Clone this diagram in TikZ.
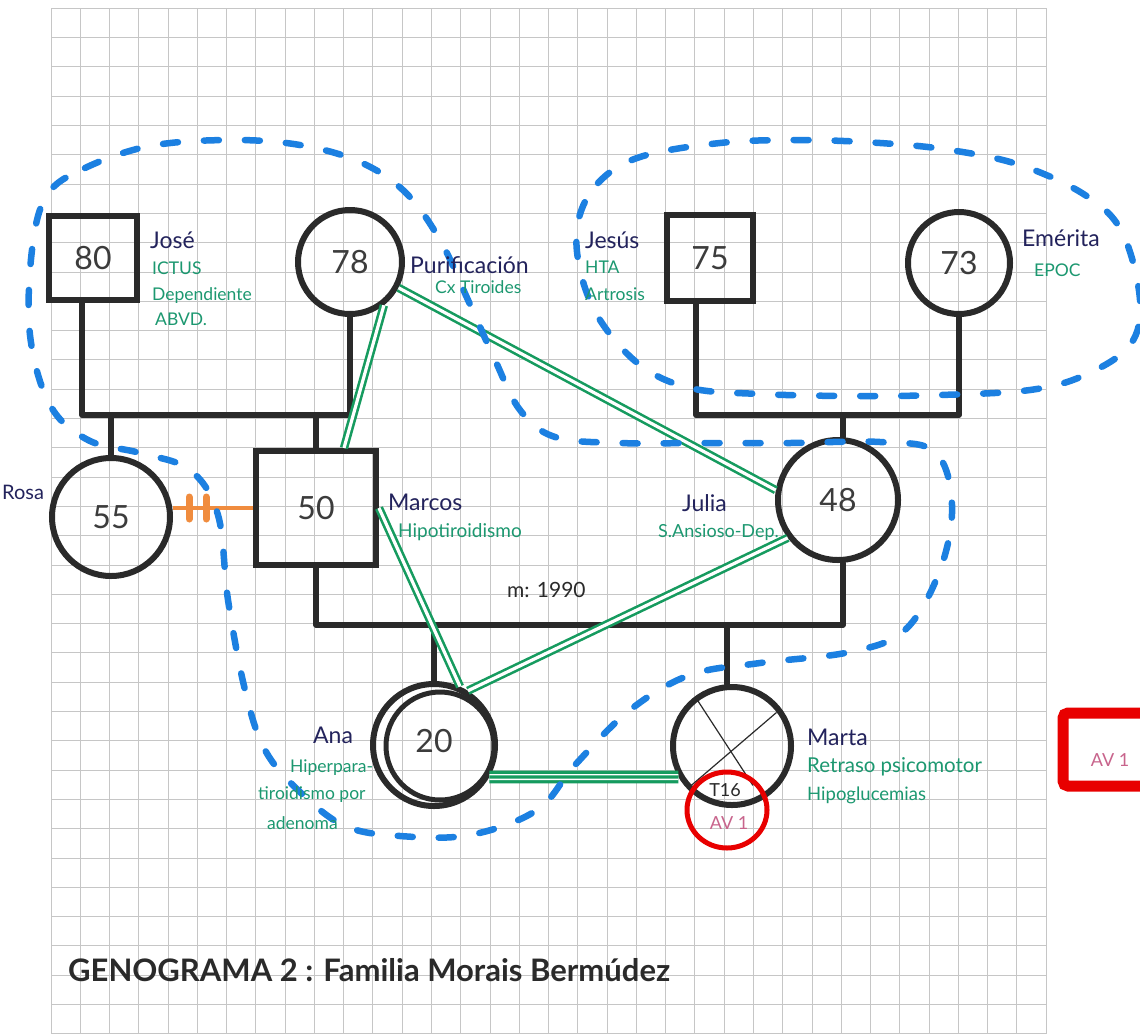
\documentclass[tikz,border=0pt]{standalone}
\usepackage{fontspec}
\setmainfont{Lato}
\usetikzlibrary{calc}
\definecolor{gridc}{RGB}{198,198,198}
\definecolor{ink}{RGB}{42,42,42}
\definecolor{numc}{RGB}{60,60,60}
\definecolor{navy}{RGB}{35,35,92}
\definecolor{dxc}{RGB}{28,152,112}
\definecolor{relg}{RGB}{22,155,95}
\definecolor{hblue}{RGB}{28,128,225}
\definecolor{orangec}{RGB}{240,140,62}
\definecolor{avc}{RGB}{200,100,140}
\definecolor{redc}{RGB}{232,0,0}
\tikzset{
  gridline/.style={draw=gridc, line width=1pt},
  fam/.style={draw=ink, line width=5.5pt, line cap=round, line join=round},
  male/.style={draw=ink, line width=6pt, rectangle, inner sep=0pt, font=\fontsize{32}{32}\selectfont, text=numc},
  female/.style={draw=ink, line width=6pt, circle, inner sep=0pt, font=\fontsize{32}{32}\selectfont, text=numc},
  pname/.style={font=\fontsize{23}{23}\selectfont, text=navy, anchor=west, inner sep=0pt},
  diag/.style={font=\fontsize{17.5}{17.5}\selectfont, text=dxc, anchor=west, inner sep=0pt},
  rel/.style={draw=relg, line width=2.6pt, double=white, double distance=3.2pt},
  trip/.style={draw=relg, line width=3.4pt, double=white, double distance=6pt},
  household/.style={draw=hblue, line width=6.5pt, line cap=round, dash pattern=on 15pt off 26pt},
  crossline/.style={draw=ink, line width=1.2pt},
  avtext/.style={font=\fontsize{18}{18}\selectfont, text=avc, inner sep=0pt},
}
\begin{document}
\begin{tikzpicture}[x=1pt,y=-1pt]
\useasboundingbox (0,0) rectangle (1140,1034);
\fill[white] (0,0) rectangle (1140,1034);

% squared paper
\foreach \i in {0,...,34} \draw[gridline] ({51+29.27*\i},8) -- ({51+29.27*\i},1034);
\foreach \j in {0,...,35} \draw[gridline] (51,{8.3+29.3*\j}) -- (1046,{8.3+29.3*\j});

% sibship and couple bars
\coordinate (barA) at (0,415);
\coordinate (barC) at (0,625);

% people
\node[male, minimum width=88pt, minimum height=84pt] (jose) at (93,258) {80};
\node[female, minimum size=104pt] (puri) at (350,262) {78};
\node[male, minimum width=86pt, minimum height=86pt] (jesus) at (710,258) {75};
\node[female, minimum size=102pt] (emerita) at (959,263) {73};
\node[female, minimum size=118pt] (rosa) at (111,517) {55};
\node[male, minimum width=120pt, minimum height=114pt] (marcos) at (316,508) {50};
\node[female, minimum size=120pt] (julia) at (838,500) {48};
\node[female, minimum size=122pt] (ana) at (434,745) {\raisebox{8pt}{20}};
\node[female, minimum size=118pt] (marta) at (732,746) {};
\draw[ink, line width=5pt] (440,746) circle (54);

% deceased cross
\draw[crossline] ($(marta.center)!0.93!(marta.127)$) -- ($(marta.center)!0.72!(marta.-62)$);
\draw[crossline] ($(marta.center)!0.9!(marta.37)$) -- ($(marta.center)!0.93!(marta.-136)$);

% family lines
\draw[fam] ([xshift=-11pt]jose.south) -- ([xshift=-11pt]jose.south |- barA) -- (puri.south |- barA) -- (puri.south);
\draw[fam] (rosa.north) -- (rosa.north |- barA);
\draw[fam] (marcos.north) -- (marcos.north |- barA);
\draw[fam] ([xshift=-14pt]jesus.south) -- ([xshift=-14pt]jesus.south |- barA) -- (emerita.south |- barA) -- (emerita.south);
\draw[fam] ([xshift=5pt]julia.north) -- ([xshift=5pt]julia.north |- barA);
\draw[fam] (marcos.south) -- (marcos.south |- barC) -- ([xshift=5pt]julia.south |- barC) -- ([xshift=5pt]julia.south);
\draw[fam] (ana.north) -- (ana.north |- barC);
\draw[fam] ([xshift=-5pt]marta.north) -- ([xshift=-5pt]marta.north |- barC);

% emotional relations
\draw[rel] (puri.-28) -- (julia.171);
\draw[rel] (puri.-52) -- ($(marcos.north)+(28,0)$);
\draw[rel] (marcos.east) -- (ana.66);
\draw[rel] (julia.-143) -- (ana.58);
\draw[trip] (ana.-30) -- (marta.-150);
\draw[relg, line width=3.4pt] (ana.-30) -- (marta.-150);

% broken relation
\coordinate (rosaedge) at (rosa.east |- marcos.west);
\draw[orangec, line width=4pt] (marcos.west) -- (rosaedge);
\draw[orangec, line width=7pt, line cap=round] ($(rosaedge)+(16,-11)$) -- ++(0,22);
\draw[orangec, line width=7pt, line cap=round] ($(rosaedge)+(33,-11)$) -- ++(0,22);

% households
\draw[household] plot[smooth cycle, tension=0.6] coordinates {
 (47,195) (85,168) (150,146) (230,140) (300,145) (360,162) (405,192) (440,240)
 (468,300) (495,360) (520,410) (555,437) (620,443) (700,443) (790,443) (880,442)
 (935,452) (952,505) (940,570) (905,630) (850,652) (760,663) (690,675) (630,710)
 (575,765) (537,810) (470,835) (400,836) (345,826) (300,792) (265,750) (245,690)
 (228,600) (218,515) (190,470) (140,453) (88,440) (50,405) (30,335) (32,250)};
\draw[household] plot[smooth cycle, tension=0.6] coordinates {
 (578,222) (598,183) (640,157) (720,143) (800,140) (880,143) (950,150) (1020,165)
 (1085,195) (1122,232) (1140,300) (1130,345) (1085,375) (1030,390) (940,395)
 (850,396) (760,394) (690,388) (640,365) (600,320) (580,270)};

% names and notes
\node[pname] (tJose) at (150,240) {José};
\node[diag] (tJose1) at (152,268) {ICTUS};
\node[diag] (tJose2) at (152,296) {Dependiente};
\node[diag] (tJose3) at (155,319) {ABVD.};
\node[pname] (tPuri) at (410,265) {Purificación};
\node[diag] (tPuri1) at (435,287) {Cx Tiroides};
\node[pname] (tJesus) at (585,240) {Jesús};
\node[diag] (tJesus1) at (585,267) {HTA};
\node[diag] (tJesus2) at (585,294) {Artrosis};
\node[pname] (tEme) at (1022,238) {Emérita};
\node[diag] (tEme1) at (1034,270) {EPOC};
\node[pname, font=\fontsize{20}{20}\selectfont] (tRosa) at (2,492) {Rosa};
\node[pname] (tMarcos) at (388,502) {Marcos};
\node[diag, font=\fontsize{19}{19}\selectfont] (tMarcos1) at (398,532) {Hipotiroidismo};
\node[font=\fontsize{21}{21}\selectfont, text=ink, anchor=west, inner sep=0pt] (tMar) at (507,590) {m: 1990};
\node[pname] (tJulia) at (682,503) {Julia};
\node[diag, font=\fontsize{18}{18}\selectfont] (tJulia1) at (658,532) {S.Ansioso-Dep.};
\node[pname] (tAna) at (313,735) {Ana};
\node[diag] (tAna1) at (290,768) {Hiperpara-};
\node[diag] (tAna2) at (258,795) {tiroidismo por};
\node[diag] (tAna3) at (267,823) {adenoma};
\node[pname] (tMarta) at (807,737) {Marta};
\node[diag, font=\fontsize{20.5}{20.5}\selectfont] (tMarta1) at (807,767) {Retraso psicomotor};
\node[diag, font=\fontsize{18.5}{18.5}\selectfont] (tMarta2) at (807,795) {Hipoglucemias};
\node[font=\fontsize{18}{18}\selectfont, text=ink, inner sep=0pt] (tT16) at (725,790) {T16};
\node[avtext] (tAv) at (729,823) {AV 1};
\draw[redc, line width=5pt] (727,810) ellipse [x radius=40, y radius=38];

% side note
\draw[redc, line width=11pt, rounded corners=5pt] (1063,713) rectangle (1190,786);
\node[avtext] (tAvBox) at (1110,760) {AV 1};

% title
\node[font=\bfseries\fontsize{31}{31}\selectfont, text=ink, anchor=west, inner sep=0pt] (title) at (68,970) {GENOGRAMA 2 : Familia Morais Bermúdez};
\end{tikzpicture}
\end{document}
